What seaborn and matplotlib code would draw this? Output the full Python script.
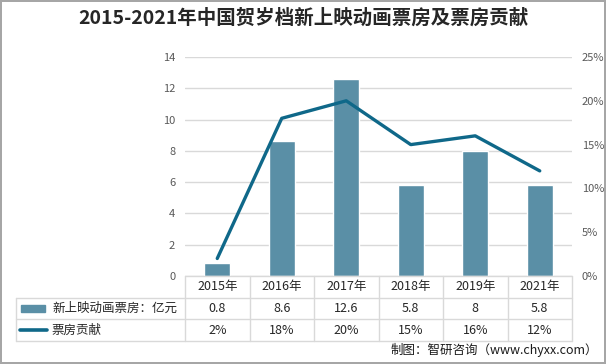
import seaborn as sns
import pandas as pd
import matplotlib.pyplot as plt
from matplotlib.lines import Line2D
from matplotlib.patches import Rectangle

years = ["2015年", "2016年", "2017年", "2018年", "2019年", "2021年"]
box_office = [0.8, 8.6, 12.6, 5.8, 8, 5.8]
share = [2, 18, 20, 15, 16, 12]
box_labels = ["0.8", "8.6", "12.6", "5.8", "8", "5.8"]
share_labels = ["2%", "18%", "20%", "15%", "16%", "12%"]
series_names = ["新上映动画票房：亿元", "票房贡献"]

sns.set_style("white")
plt.rcParams["font.family"] = ["Noto Sans CJK SC", "DejaVu Sans"]

bar_color = "#5a8fa6"
line_color = "#0f6889"
grid_color = "#d9d9d9"
tick_color = "#595959"

df = pd.DataFrame({"year": years, "box": box_office, "share": share})

fig = plt.figure(figsize=(6.06, 3.64), dpi=100)
W, H = 606, 364
x0, x1, y0, y1 = 185, 572, 57, 276
ax = fig.add_axes([x0 / W, 1 - y1 / H, (x1 - x0) / W, (y1 - y0) / H])

sns.barplot(ax=ax, data=df, x="year", y="box", color=bar_color, width=0.4,
            saturation=1, zorder=3)
ax.set_ylim(0, 14)
ax.set_yticks(range(0, 15, 2))
ax.yaxis.grid(True, color=grid_color, linewidth=1)
ax.set_axisbelow(True)
ax.set_xlabel("")
ax.set_ylabel("")
ax.tick_params(axis="y", labelsize=8, labelcolor=tick_color, length=0, pad=7)
ax.tick_params(axis="x", labelbottom=False, length=0)
for s in ax.spines.values():
    s.set_visible(False)

ax2 = ax.twinx()
sns.pointplot(ax=ax2, data=df, x="year", y="share", color=line_color,
              markers="", linewidth=2.4, zorder=4)
ax2.set_ylim(0, 25)
ax2.set_yticks(range(0, 26, 5))
ax2.set_yticklabels([f"{v}%" for v in range(0, 26, 5)])
ax2.tick_params(axis="y", labelsize=8, labelcolor=tick_color, length=0, pad=7)
ax2.set_ylabel("")
for s in ax2.spines.values():
    s.set_visible(False)

# data table under the plot
tx0, row_h = 16, 21.7
col_w = (x1 - x0) / len(years)
fx = lambda px: px / W
fy = lambda py: 1 - py / H
tl = dict(color=grid_color, linewidth=1, transform=fig.transFigure)
rows_y = [y1 + i * row_h for i in range(4)]
fig.add_artist(Line2D([fx(x0), fx(x1)], [fy(rows_y[0])] * 2, **tl))
for ry in rows_y[1:]:
    fig.add_artist(Line2D([fx(tx0), fx(x1)], [fy(ry)] * 2, **tl))
fig.add_artist(Line2D([fx(tx0)] * 2, [fy(rows_y[1]), fy(rows_y[3])], **tl))
for i in range(len(years) + 1):
    xx = x0 + i * col_w
    fig.add_artist(Line2D([fx(xx)] * 2, [fy(rows_y[0]), fy(rows_y[3])], **tl))

txt = dict(fontsize=9, color="#262626", ha="center", va="center")
for i, y in enumerate(years):
    cx = fx(x0 + (i + 0.5) * col_w)
    fig.text(cx, fy(rows_y[0] + row_h / 2), y, **txt)
    fig.text(cx, fy(rows_y[1] + row_h / 2), box_labels[i], **txt)
    fig.text(cx, fy(rows_y[2] + row_h / 2), share_labels[i], **txt)

fig.add_artist(Rectangle((fx(21), fy(rows_y[1] + row_h / 2 + 3.5)), fx(24), 7 / H,
                         color=bar_color, transform=fig.transFigure))
fig.add_artist(Line2D([fx(20), fx(47)], [fy(rows_y[2] + row_h / 2)] * 2,
                      color=line_color, linewidth=2.6, transform=fig.transFigure))
fig.text(fx(52), fy(rows_y[1] + row_h / 2), series_names[0], fontsize=9,
         color="#262626", ha="left", va="center")
fig.text(fx(51), fy(rows_y[2] + row_h / 2), series_names[1], fontsize=9,
         color="#262626", ha="left", va="center")

fig.text(0.5, fy(18), "2015-2021年中国贺岁档新上映动画票房及票房贡献",
         fontsize=14, fontweight="bold", color="#262626", ha="center", va="center")
fig.text(fx(598), fy(350), "制图：智研咨询（www.chyxx.com）", fontsize=9,
         color="#1a1a1a", ha="right", va="center")

fig.patch.set_edgecolor("#a6a6a6")
fig.patch.set_linewidth(1.5)
fig.savefig("out.png", dpi=100)
